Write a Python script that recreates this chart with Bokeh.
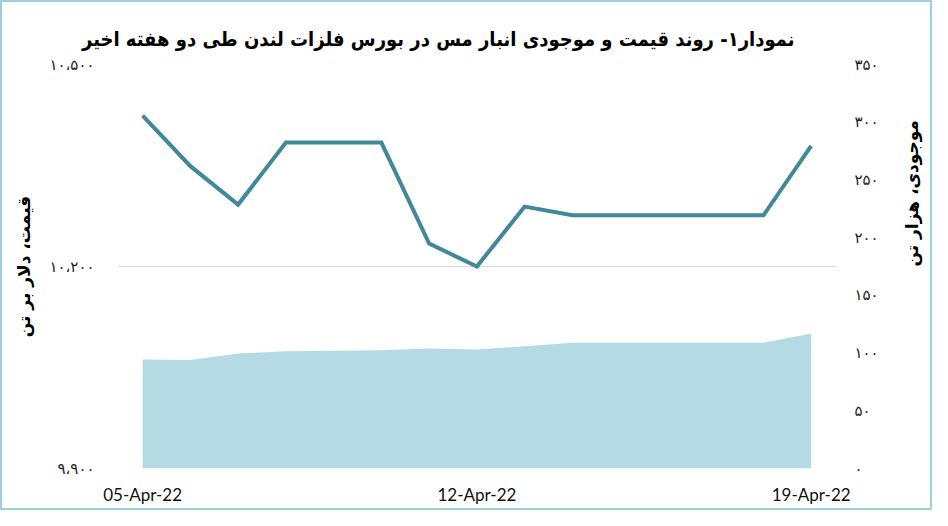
import math
from bokeh.plotting import figure
from bokeh.models import Range1d, LinearAxis, FixedTicker
from bokeh.embed import file_html
from bokeh.resources import INLINE

# ---- data ----
dates = ["05-Apr-22", "06-Apr-22", "07-Apr-22", "08-Apr-22", "09-Apr-22",
         "10-Apr-22", "11-Apr-22", "12-Apr-22", "13-Apr-22", "14-Apr-22",
         "15-Apr-22", "16-Apr-22", "17-Apr-22", "18-Apr-22", "19-Apr-22"]
price = [10424, 10349, 10292, 10384, 10384, 10384, 10234, 10200,
         10289, 10276, 10276, 10276, 10276, 10276, 10379]
stock = [94.5, 93.9, 99.7, 101.5, 102.0, 102.4, 103.9, 103.0,
         105.9, 109.0, 109.0, 109.0, 109.0, 109.0, 117.0]
price_ticks = [9900, 10200, 10500]
price_tick_labels = ["۹،۹۰۰", "۱۰،۲۰۰", "۱۰،۵۰۰"]
stock_ticks = [0, 50, 100, 150, 200, 250, 300, 350]
stock_tick_labels = ["۰", "۵۰", "۱۰۰", "۱۵۰", "۲۰۰", "۲۵۰", "۳۰۰", "۳۵۰"]
date_tick_idx = [0, 7, 14]
title_text = "نمودار۱- روند قیمت و موجودی انبار مس در بورس فلزات لندن طی دو هفته اخیر"
left_label = "قیمت، دلار بر تن"
right_label = "موجودی، هزار تن"

xs = list(range(len(dates)))

p = figure(width=932, height=510,
           x_range=Range1d(-0.505, 14.53), y_range=Range1d(9900, 10500),
           output_backend="svg", toolbar_location=None,
           min_border_left=116, min_border_right=98,
           min_border_top=62, min_border_bottom=44)
p.extra_y_ranges = {"stock": Range1d(0, 350)}
p.outline_line_color = None
p.background_fill_color = "white"
p.border_fill_color = "white"
p.styles = {"border": "2px solid #9fcfdc", "box-sizing": "border-box"}

p.varea(x=xs, y1=[0] * len(xs), y2=stock, y_range_name="stock",
        fill_color="#b4dae4", fill_alpha=1.0)
p.line(x=xs, y=price, line_color="#41889a", line_width=4, line_join="miter")

# title
p.title.text = title_text
p.title.align = "right"
p.title.offset = 42
p.title.text_font = "DejaVu Sans Condensed"
p.title.text_font_style = "bold"
p.title.text_font_size = "20px"
p.title.text_color = "#000000"
p.title.standoff = 27

# grid
p.xgrid.visible = False
p.ygrid.ticker = FixedTicker(ticks=price_ticks)
p.ygrid.grid_line_color = "#d9d9d9"
p.ygrid.grid_line_width = 1

# left axis
ya = p.yaxis[0]
ya.ticker = FixedTicker(ticks=price_ticks)
ya.major_label_overrides = {t: l for t, l in zip(price_ticks, price_tick_labels)}
ya.axis_line_color = None
ya.major_tick_line_color = None
ya.minor_tick_line_color = None
ya.major_tick_out = 0
ya.major_label_standoff = 24
ya.major_label_text_font = "DejaVu Sans"
ya.major_label_text_font_size = "15px"
ya.major_label_text_color = "#222222"
ya.axis_label = left_label
ya.axis_label_standoff = 12
ya.axis_label_text_font = "DejaVu Sans"
ya.axis_label_text_font_style = "bold"
ya.axis_label_text_font_size = "17px"
ya.axis_label_text_color = "#000000"

# right axis
ra = LinearAxis(y_range_name="stock", ticker=FixedTicker(ticks=stock_ticks))
ra.major_label_overrides = {t: l for t, l in zip(stock_ticks, stock_tick_labels)}
ra.axis_line_color = None
ra.major_tick_line_color = None
ra.minor_tick_line_color = None
ra.major_tick_out = 0
ra.major_label_standoff = 18
ra.major_label_text_font = "DejaVu Sans"
ra.major_label_text_font_size = "15px"
ra.major_label_text_color = "#222222"
ra.axis_label = right_label
ra.axis_label_standoff = 30
ra.axis_label_text_font = "DejaVu Sans"
ra.axis_label_text_font_style = "bold"
ra.axis_label_text_font_size = "17px"
ra.axis_label_text_color = "#000000"
ra.axis_label_orientation = math.pi / 2
p.add_layout(ra, "right")

# bottom axis
xa = p.xaxis[0]
xa.ticker = FixedTicker(ticks=date_tick_idx)
xa.major_label_overrides = {i: dates[i] for i in date_tick_idx}
xa.axis_line_color = None
xa.major_tick_line_color = None
xa.minor_tick_line_color = None
xa.major_tick_out = 0
xa.major_label_standoff = 15
xa.major_label_text_font = "Lato"
xa.major_label_text_font_size = "17px"
xa.major_label_text_color = "#111111"

open("out.html", "w").write(file_html(p, INLINE))
